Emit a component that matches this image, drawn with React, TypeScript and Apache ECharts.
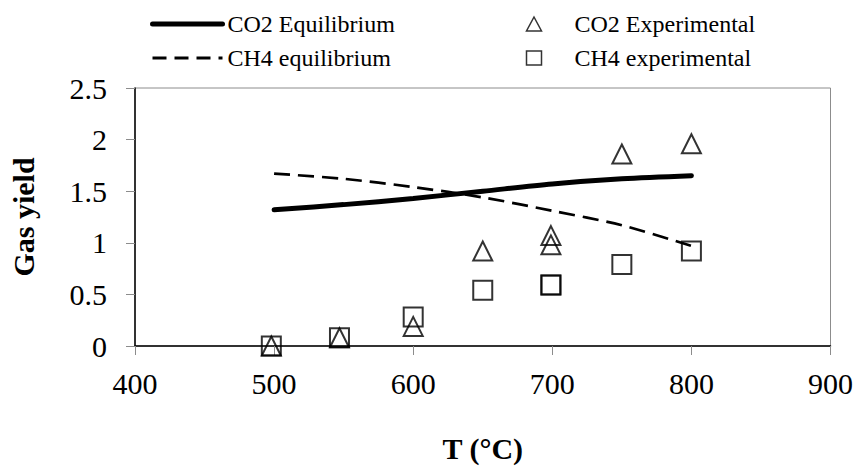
import React, { useEffect, useRef } from "react";
import * as echarts from "echarts";

const eqTemps = [500, 550, 600, 650, 700, 750, 800];
const co2Equilibrium = [1.32, 1.37, 1.43, 1.5, 1.57, 1.62, 1.65];
const ch4Equilibrium = [1.67, 1.62, 1.54, 1.44, 1.31, 1.17, 0.97];

const expTemps = [498, 547, 600, 650, 699, 699, 750, 800];
const co2Experimental = [0.0, 0.08, 0.19, 0.92, 1.07, 0.98, 1.86, 1.96];
const ch4Experimental = [0.0, 0.08, 0.28, 0.54, 0.59, 0.59, 0.79, 0.92];

const yTicks = ["0", "0.5", "1", "1.5", "2", "2.5"];
const xTicks = ["400", "500", "600", "700", "800", "900"];

const FONT = "'Liberation Serif', 'Times New Roman', serif";

export default function App() {
  const ref = useRef<HTMLDivElement>(null);
  useEffect(() => {
    if (!ref.current) return;
    const chart = echarts.init(ref.current, null, { renderer: "svg" });
    const pair = (xs: number[], ys: number[]) => xs.map((x, i) => [x, ys[i]]);
    chart.setOption({
      animation: false,
      backgroundColor: "#ffffff",
      textStyle: { fontFamily: FONT, color: "#000" },
      grid: {
        left: 135,
        right: 25,
        top: 88,
        bottom: 118,
        show: true,
        borderColor: "#8c8c8c",
        borderWidth: 1,
        backgroundColor: "transparent",
      },
      legend: [
        {
          orient: "vertical",
          left: 150,
          top: 12,
          padding: 0,
          itemWidth: 70,
          itemHeight: 14,
          itemGap: 10,
          itemStyle: { opacity: 0 },
          textStyle: { fontFamily: FONT, fontSize: 24, color: "#000" },
          data: [
            { name: "CO2 Equilibrium", lineStyle: { color: "#000", width: 5, type: "solid", cap: "round" } },
            { name: "CH4 equilibrium", lineStyle: { color: "#000", width: 3, type: [14, 8] } },
          ],
        },
        {
          orient: "vertical",
          left: 524,
          top: 12,
          padding: 0,
          itemWidth: 15,
          itemHeight: 14,
          itemGap: 10,
          textStyle: { fontFamily: FONT, fontSize: 24, color: "#000", padding: [0, 0, 0, 28] },
          data: [
            { name: "CO2 Experimental", icon: "triangle", itemStyle: { color: "none", borderColor: "#000", borderWidth: 1.5 } },
            { name: "CH4 experimental", icon: "rect", itemStyle: { color: "none", borderColor: "#000", borderWidth: 1.5 } },
          ],
        },
      ],
      xAxis: {
        type: "value",
        min: 400,
        max: 900,
        interval: 100,
        name: "T (°C)",
        nameLocation: "middle",
        nameGap: 87,
        nameTextStyle: { fontFamily: FONT, fontSize: 30, fontWeight: "bold", color: "#000" },
        axisLine: { show: true, onZero: false, lineStyle: { color: "#000", width: 1.5 } },
        axisTick: { show: true, length: 9, lineStyle: { color: "#8c8c8c", width: 1 } },
        splitLine: { show: false },
        axisLabel: {
          fontFamily: FONT,
          fontSize: 30,
          color: "#000",
          margin: 22,
          formatter: (v: number) => xTicks[Math.round((v - 400) / 100)] ?? String(v),
        },
      },
      yAxis: {
        type: "value",
        min: 0,
        max: 2.5,
        interval: 0.5,
        name: "Gas yield",
        nameLocation: "middle",
        nameGap: 97,
        nameRotate: 90,
        nameTextStyle: { fontFamily: FONT, fontSize: 30, fontWeight: "bold", color: "#000" },
        axisLine: { show: true, lineStyle: { color: "#000", width: 1.5 } },
        axisTick: { show: true, length: 9, lineStyle: { color: "#8c8c8c", width: 1 } },
        splitLine: { show: false },
        axisLabel: {
          fontFamily: FONT,
          fontSize: 30,
          color: "#000",
          margin: 28,
          formatter: (v: number) => yTicks[Math.round(v / 0.5)] ?? String(v),
        },
      },
      series: [
        {
          name: "CO2 Equilibrium",
          type: "line",
          data: pair(eqTemps, co2Equilibrium),
          smooth: 0.3,
          showSymbol: false,
          symbol: "none",
          lineStyle: { color: "#000", width: 5, cap: "round" },
          itemStyle: { color: "#000" },
        },
        {
          name: "CH4 equilibrium",
          type: "line",
          data: pair(eqTemps, ch4Equilibrium),
          smooth: 0.3,
          showSymbol: false,
          symbol: "none",
          lineStyle: { color: "#000", width: 2.7, type: [16, 8] },
          itemStyle: { color: "#000" },
        },
        {
          name: "CO2 Experimental",
          type: "scatter",
          data: pair(expTemps, co2Experimental),
          symbol: "triangle",
          symbolSize: [19, 19],
          itemStyle: { color: "none", borderColor: "#000", borderWidth: 2 },
          z: 3,
        },
        {
          name: "CH4 experimental",
          type: "scatter",
          data: pair(expTemps, ch4Experimental),
          symbol: "rect",
          symbolSize: [19, 19],
          itemStyle: { color: "none", borderColor: "#000", borderWidth: 2 },
          z: 3,
        },
      ],
    });
    return () => chart.dispose();
  }, []);
  return <div ref={ref} style={{ width: 856, height: 468, position: "absolute", left: 0, top: 0 }} />;
}
